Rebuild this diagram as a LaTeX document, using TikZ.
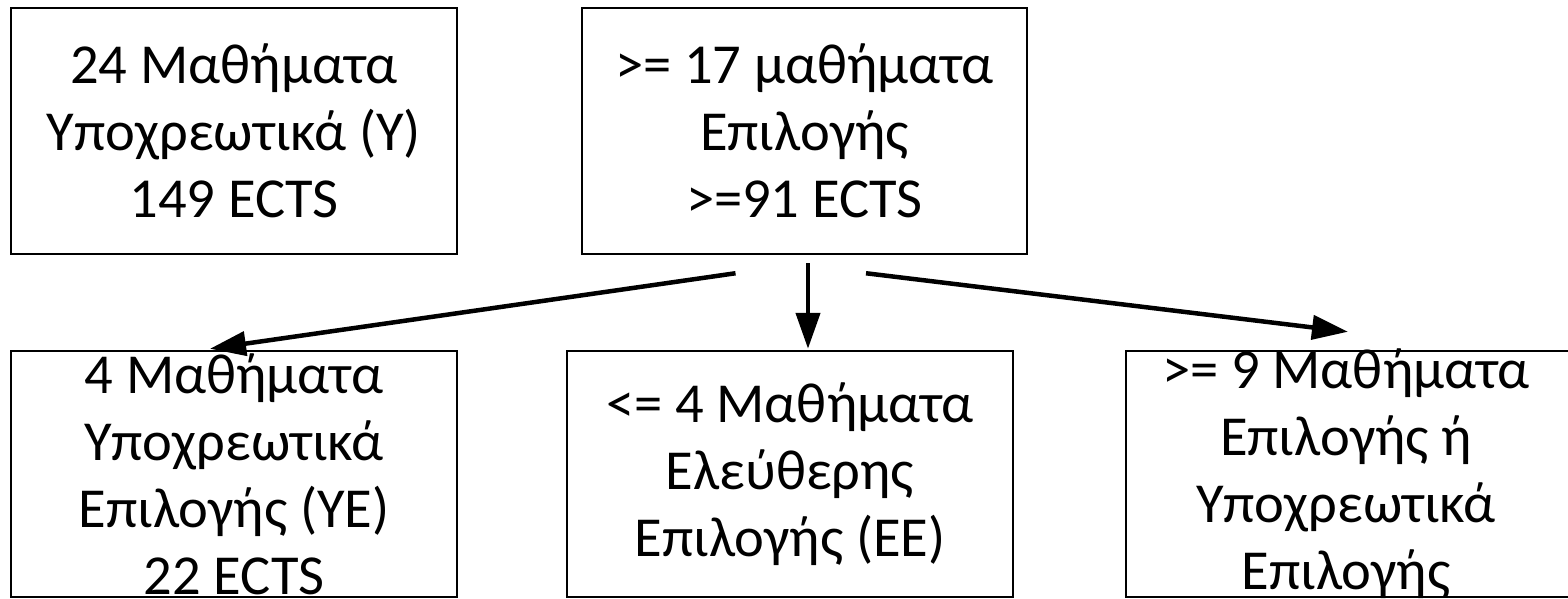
\documentclass[tikz,border=0pt]{standalone}
\usepackage{fontspec}
\setmainfont{Carlito}
\usetikzlibrary{arrows.meta,calc}
\tikzset{
  boxnode/.style={draw=black, line width=2.5pt, rectangle, inner sep=0pt},
  txt/.style={align=center, inner sep=0pt, font=\fontsize{56.5}{67}\selectfont},
  arr/.style={line width=4.5pt, -{Triangle[length=36pt,width=24pt]}}
}
\begin{document}
\begin{tikzpicture}[x=1pt,y=-1pt]
\clip (0,0) rectangle (1568,599);
\useasboundingbox (0,0) rectangle (1568,599);
\node[boxnode, minimum width=446pt, minimum height=246pt] (box1) at (234,131) {};
\node[boxnode, minimum width=445pt, minimum height=246pt] (box2) at (804.5,131) {};
\node[boxnode, minimum width=446pt, minimum height=246pt] (box3) at (234,474) {};
\node[boxnode, minimum width=446pt, minimum height=246pt] (box4) at (790,474) {};
\node[boxnode, minimum width=460pt, minimum height=246pt] (box5) at (1356,474) {};
\node[txt] (t1) at (box1.center) {24 Μαθήματα\\Υποχρεωτικά (Υ)\\149 ECTS};
\node[txt] (t2) at (box2.center) {>= 17 μαθήματα\\Επιλογής\\>=91 ECTS};
\node[txt] (t3) at (box3.center) {4 Μαθήματα\\Υποχρεωτικά\\Επιλογής (ΥΕ)\\22 ECTS};
\node[txt] (t4) at (box4.center) {<= 4 Μαθήματα\\Ελεύθερης\\Επιλογής (ΕΕ)};
\node[txt] (t5) at (1346,474) {>= 9 Μαθήματα\\Επιλογής ή\\Υποχρεωτικά\\Επιλογής};
\draw[arr] ($(box2.south)+(-69,18)$) -- ($(box3.north)+(-24,-1)$);
\draw[arr] ($(box2.south)+(3.5,8)$) -- ($(box4.north)+(18,-1)$);
\draw[arr] ($(box2.south)+(61.5,18)$) -- ($(box5.north)+(-8,-18)$);
\end{tikzpicture}
\end{document}
